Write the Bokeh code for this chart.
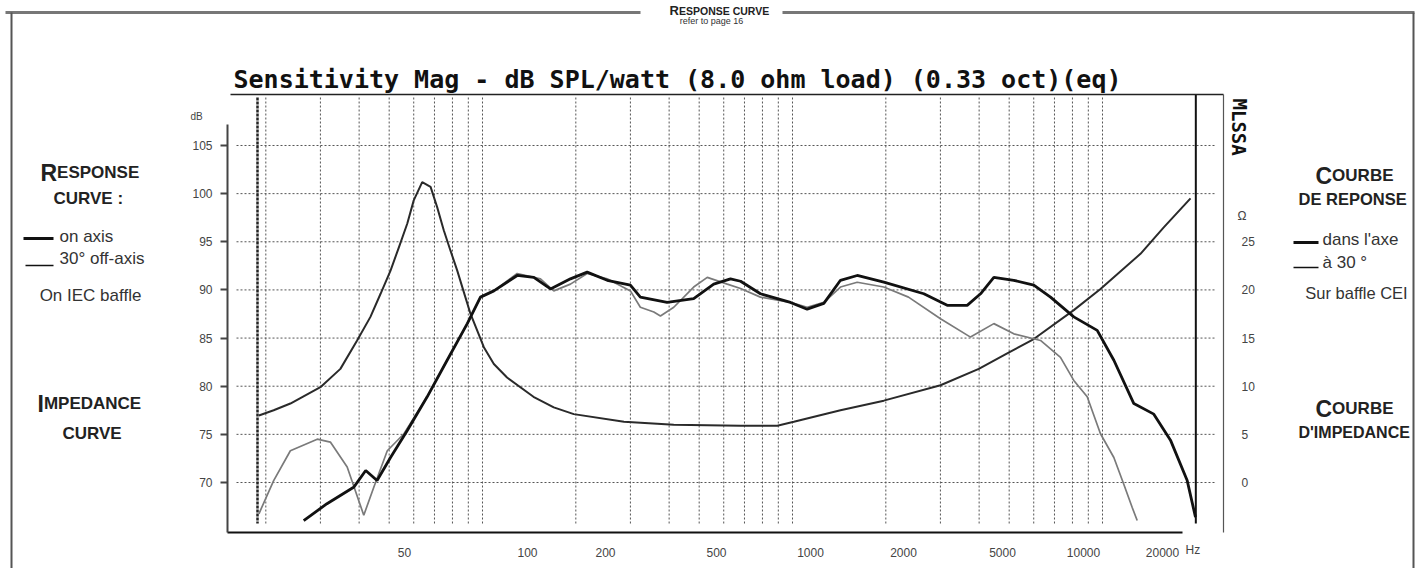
from bokeh.plotting import figure
from bokeh.models import Range1d, LinearAxis, LogAxis, FixedTicker, Label
from bokeh.embed import file_html
from bokeh.resources import INLINE

# ---------------- data ----------------
freq_on = [26.5, 31.5, 38.4, 42.0, 45.7, 50.5, 57.2, 66.3, 76.9, 89.3, 98.5, 108.8,
           129.4, 146.4, 165.7, 192.2, 217.6, 252.5, 300, 323, 394, 480, 557, 631,
           680, 788, 985, 1115, 1262, 1428, 1617, 1970, 2652, 3155, 3660, 4042,
           4462, 5174, 6003, 6797, 8080, 9614, 10880, 12620, 14640, 16570, 18760, 19950]
db_on = [66.05, 67.8, 69.5, 71.25, 70.2, 72.6, 75.4, 78.9, 82.7, 86.5, 89.25, 89.9,
         91.5, 91.3, 90.1, 91.15, 91.85, 91.0, 90.5, 89.25, 88.7, 89.1, 90.6, 91.15,
         90.9, 89.6, 88.7, 88.0, 88.6, 91.0, 91.5, 90.8, 89.6, 88.4, 88.4, 89.6,
         91.3, 91.0, 90.5, 89.25, 87.2, 85.8, 82.7, 78.2, 77.1, 74.4, 70.2, 66.4]

freq_off = [19.0, 21.2, 24.0, 29.3, 32.3, 36.6, 41.4, 44.6, 49.3, 55.8, 66.3, 76.9,
            89.3, 98.5, 108.8, 129.4, 153.8, 169.8, 192.2, 217.6, 252.5, 300, 323,
            357, 375, 414, 480, 531, 616, 680, 788, 985, 1115, 1262, 1428, 1617,
            1970, 2367, 3002, 3751, 4462, 5174, 6310, 7319, 8080, 8926, 9851,
            10880, 11720, 12470, 12940]
db_off = [66.75, 70.2, 73.3, 74.5, 74.2, 71.6, 66.6, 69.5, 73.3, 75.06, 78.9, 82.7,
          86.5, 89.25, 89.9, 91.7, 91.15, 89.9, 90.6, 91.7, 91.15, 89.9, 88.2,
          87.7, 87.3, 88.2, 90.3, 91.3, 90.6, 90.15, 89.25, 88.7, 88.2, 88.7, 90.3, 90.8,
          90.3, 89.25, 87.0, 85.1, 86.5, 85.44, 84.75, 83.0, 80.6, 78.9, 75.06,
          72.6, 69.8, 67.4, 66.05]

freq_z = [19.0, 21.2, 24.0, 30.0, 34.8, 39.4, 43.5, 46.9, 50.5, 53.7, 57.2, 60.0,
          63.9, 68.0, 71.4, 75.0, 78.8, 82.9, 87.0, 91.5, 101, 108.8, 120, 146,
          169.8, 197, 286, 414, 680, 893, 1010, 1428, 1970, 3002, 3990, 4927,
          6003, 8080, 9851, 13260, 15760, 19230]
ohm_z = [6.96, 7.5, 8.2, 9.9, 11.8, 14.75, 17.2, 19.6, 22.0, 24.4, 26.9, 29.3,
         31.2, 30.7, 28.6, 26.2, 24.1, 22.0, 19.8, 17.5, 14.05, 12.3, 10.9, 8.9,
         7.8, 7.1, 6.3, 6.0, 5.9, 5.9, 6.3, 7.5, 8.5, 10.1, 11.8, 13.4,
         14.9, 17.9, 20.1, 23.75, 26.5, 29.5]

db_ticks = [70, 75, 80, 85, 90, 95, 100, 105]
ohm_ticks = [0, 5, 10, 15, 20, 25]
hz_labels = ["50", "100", "200", "500", "1000", "2000", "5000", "10000", "20000"]
grid_freqs = [20, 30, 40, 50, 60, 70, 80, 90, 100, 200, 300, 400, 500, 600, 700, 800,
              900, 1000, 2000, 3000, 4000, 5000, 6000, 7000, 8000, 9000, 10000]

# ---------------- layout helpers (picture pixel -> data) ----------------
W, H = 1419, 568
X100, DEC = 482.0, 310.0        # picture x of 100 Hz, pixels per decade
Y70, PXDB = 482.0, 9.629        # picture y of 70 dB, pixels per dB


def fx(px):
    return 100.0 * 10 ** ((px - X100) / DEC)


def fy(py):
    return 70.0 + (Y70 - py) / PXDB


# picture x where the printed frequency labels sit
hz_label_px = [404, 527, 605, 716, 810, 903, 1002, 1083, 1162]

p = figure(width=W, height=H, x_axis_type="log",
           x_range=Range1d(fx(0), fx(W)), y_range=Range1d(fy(H), fy(0)),
           output_backend="svg", toolbar_location=None, min_border=0,
           x_axis_location=None, y_axis_location=None, title=None)
p.outline_line_color = None
p.background_fill_color = "white"
p.border_fill_color = "white"
p.grid.visible = False
for g in list(p.renderers) + list(p.center):
    if g.__class__.__name__ == "Grid":
        g.visible = False
p.extra_y_ranges = {"ohm": Range1d(fy(H) - 70, fy(0) - 70)}


def seg(px0, py0, px1, py1, color="#222", width=1.0, dash="solid"):
    p.segment(x0=[fx(px0)], y0=[fy(py0)], x1=[fx(px1)], y1=[fy(py1)],
              line_color=color, line_width=width, line_dash=dash)


def text(px, py, s, size, align="left", baseline="middle", style="normal",
         font="Liberation Sans", color="#222", angle=0.0):
    p.add_layout(Label(x=fx(px), y=fy(py), text=s, text_font=font,
                       text_font_size=f"{size}px", text_font_style=style,
                       text_align=align, text_baseline=baseline,
                       text_color=color, angle=angle))


# ---------------- grid ----------------
gy0, gy1 = fy(523), fy(97)
p.segment(x0=grid_freqs, y0=[gy0] * len(grid_freqs), x1=grid_freqs,
          y1=[gy1] * len(grid_freqs), line_color="#555", line_width=1, line_dash="2 2")
gx0, gx1 = fx(236), fx(1215)
p.segment(x0=[gx0] * len(db_ticks), y0=db_ticks, x1=[gx1] * len(db_ticks),
          y1=db_ticks, line_color="#555", line_width=1, line_dash="2 2")

# frame-like lines of the MLSSA plot
seg(257, 97, 257, 523, color="#222", width=2.5, dash="3 1")
p.segment(x0=[20000], y0=[fy(94)], x1=[20000], y1=[gy0], line_color="#111", line_width=2)
seg(230, 94, 1223, 94, color="#222", width=1.5)

# ---------------- curves ----------------
p.line(freq_z, ohm_z, y_range_name="ohm", line_color="#2a2a2a", line_width=2)
p.line(freq_off, db_off, line_color="#7a7a7a", line_width=1.7)
p.line(freq_on, db_on, line_color="#111111", line_width=2.8)

# ---------------- axes ----------------
yax = LinearAxis(fixed_location=fx(227), bounds=(fy(532), fy(124)),
                 ticker=FixedTicker(ticks=db_ticks))
yax.axis_line_color = "#444"
yax.axis_line_width = 2
yax.major_tick_out = 7
yax.major_tick_in = 0
yax.major_tick_line_color = "#444"
yax.major_tick_line_width = 2
yax.minor_tick_line_color = None
yax.major_label_standoff = 8
yax.major_label_text_font = "Liberation Sans"
yax.major_label_text_font_size = "12px"
yax.major_label_text_color = "#444"
p.add_layout(yax, "left")

hz_ticks = [round(fx(v), 3) for v in hz_label_px]
xax = LogAxis(fixed_location=fy(532), bounds=(fx(227), fx(1182)),
              ticker=FixedTicker(ticks=hz_ticks))
xax.major_label_overrides = {t: s for t, s in zip(hz_ticks, hz_labels)}
xax.axis_line_color = "#111"
xax.axis_line_width = 2
xax.major_tick_line_color = None
xax.minor_tick_line_color = None
xax.major_label_standoff = 9
xax.major_label_text_font = "Liberation Sans"
xax.major_label_text_font_size = "12px"
xax.major_label_text_color = "#444"
p.add_layout(xax, "below")

rax = LinearAxis(y_range_name="ohm", fixed_location=fx(1223),
                 bounds=(fy(532) - 70, fy(94) - 70), ticker=FixedTicker(ticks=ohm_ticks))
rax.axis_line_color = "#555"
rax.axis_line_width = 1.2
rax.major_tick_line_color = None
rax.minor_tick_line_color = None
rax.major_label_standoff = 12
rax.major_label_text_font = "Liberation Sans"
rax.major_label_text_font_size = "12px"
rax.major_label_text_color = "#444"
p.add_layout(rax, "right")

# ---------------- texts ----------------
text(233, 79, "Sensitivity Mag - dB SPL/watt (8.0 ohm load) (0.33 oct)(eq)", 25,
     style="bold", font="DejaVu Sans Mono", color="#111")
text(1239, 98, "MLSSA", 19, align="left", style="bold", font="DejaVu Sans Mono",
     color="#111", angle=-1.5708)
text(196, 116, "dB", 10, align="center", color="#444")
text(1237, 215, "Ω", 12, color="#444")
text(1185, 549, "Hz", 12, color="#444")

# page header / border
seg(5, 12, 640, 12, color="#777", width=3)
seg(782, 12, 1414, 12, color="#777", width=3)
seg(11, 12, 11, 568, color="#555", width=2)
seg(1413, 12, 1413, 568, color="#555", width=2)
text(669, 10, "R", 13, align="left", baseline="alphabetic", style="bold", color="#222")
text(678.5, 10, "ESPONSE CURVE", 10.5, align="left", baseline="alphabetic", style="bold", color="#222")
text(711, 20, "refer to page 16", 9, align="center", color="#333")

# left block
text(40, 172, "R", 23, baseline="alphabetic", style="bold")
text(56.6, 172, "ESPONSE", 17, baseline="alphabetic", style="bold")
text(53, 198, "CURVE :", 17, baseline="alphabetic", style="bold")
seg(23, 238, 53, 238, color="#111", width=3)
text(59, 236, "on axis", 17, color="#333")
seg(25, 265, 53, 265, color="#111", width=1.5)
text(59, 258, "30° off-axis", 17, color="#333")
text(90, 295, "On IEC baffle", 17, align="center", color="#333")
text(37, 403, "I", 23, baseline="alphabetic", style="bold")
text(43.4, 403, "MPEDANCE", 17, baseline="alphabetic", style="bold")
text(62, 433, "CURVE", 17, baseline="alphabetic", style="bold")

# right block
text(1315, 175, "C", 23, baseline="alphabetic", style="bold")
text(1331.6, 175, "OURBE", 17, baseline="alphabetic", style="bold")
text(1298, 198, "DE REPONSE", 16.5, baseline="alphabetic", style="bold")
seg(1293, 242, 1318, 242, color="#111", width=3)
text(1322, 239, "dans l'axe", 17, color="#333")
seg(1293, 267, 1318, 267, color="#111", width=1.5)
text(1322, 262, "à 30 °", 17, color="#333")
text(1356, 292, "Sur baffle CEI", 16.5, align="center", color="#333")
text(1315, 408, "C", 23, baseline="alphabetic", style="bold")
text(1331.6, 408, "OURBE", 17, baseline="alphabetic", style="bold")
text(1298, 432, "D'IMPEDANCE", 16, baseline="alphabetic", style="bold")

open("out.html", "w").write(file_html(p, INLINE))
